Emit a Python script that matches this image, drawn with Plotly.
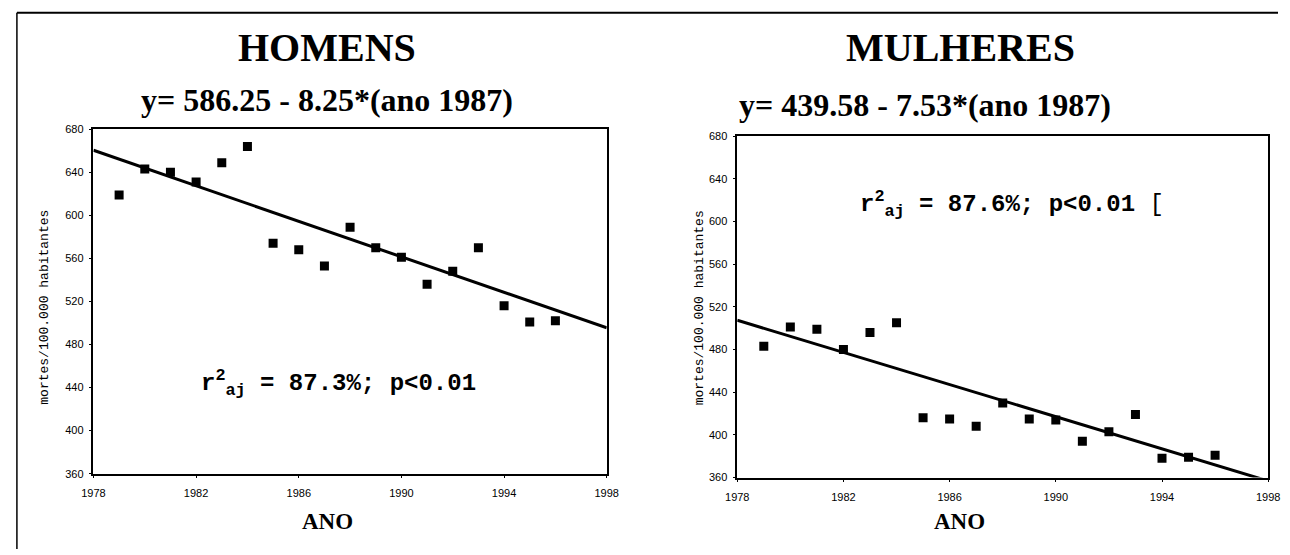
import plotly.graph_objects as go

# ---- data ----
anos = [1979, 1980, 1981, 1982, 1983, 1984, 1985, 1986, 1987,
        1988, 1989, 1990, 1991, 1992, 1993, 1994, 1995, 1996]
homens = [619, 643, 640, 631, 649, 664, 574, 568, 553,
          589, 570, 561, 536, 548, 570, 516, 501, 502]
mulheres = [483, 501, 499, 480, 496, 505, 416, 415, 408,
            430, 415, 414, 394, 403, 419, 378, 379, 381]
fit_x = [1978, 1998]
fit_homens = [660.5, 495.5]
fit_mulheres = [507.4, 356.8]
x_ticks = [1978, 1982, 1986, 1990, 1994, 1998]
y_ticks = [360, 400, 440, 480, 520, 560, 600, 640, 680]

W, H = 1290, 555
fig = go.Figure()

def px(x):
    return x / W

def py(y):
    return 1 - y / H

marker = dict(symbol="square", size=9, color="black", line=dict(width=0))
fig.add_trace(go.Scatter(x=anos, y=homens, mode="markers", marker=marker,
                         xaxis="x", yaxis="y", showlegend=False))
fig.add_trace(go.Scatter(x=fit_x, y=fit_homens, mode="lines",
                         line=dict(color="black", width=3),
                         xaxis="x", yaxis="y", showlegend=False))
fig.add_trace(go.Scatter(x=anos, y=mulheres, mode="markers", marker=marker,
                         xaxis="x2", yaxis="y2", showlegend=False))
fig.add_trace(go.Scatter(x=fit_x, y=fit_mulheres, mode="lines",
                         line=dict(color="black", width=3),
                         xaxis="x2", yaxis="y2", showlegend=False))

tickfont = dict(family="Liberation Sans, Arial", size=11, color="black")
xax = dict(range=[1978, 1998], tickvals=x_ticks, showgrid=False, zeroline=False,
           showline=True, linecolor="black", linewidth=1.5, mirror=True,
           ticks="outside", ticklen=3, tickcolor="black", tickfont=tickfont,
           ticklabelstandoff=5)
yax = dict(range=[360, 680], tickvals=y_ticks, showgrid=False, zeroline=False,
           showline=True, linecolor="black", linewidth=1.5, mirror=True,
           ticks="outside", ticklen=3, tickcolor="black", tickfont=tickfont,
           ticklabelstandoff=3)

fig.update_layout(
    width=W, height=H,
    margin=dict(l=0, r=0, t=0, b=0),
    paper_bgcolor="white", plot_bgcolor="white",
    xaxis=dict(xax, domain=[px(83), px(606)], anchor="y"),
    yaxis=dict(yax, domain=[py(478), py(126)], anchor="x"),
    xaxis2=dict(xax, domain=[px(739), px(1280)], anchor="y2"),
    yaxis2=dict(yax, domain=[py(482), py(133)], anchor="x2"),
)

serif = "Liberation Serif, Times New Roman"
mono = "Liberation Mono, Courier New"
ann = []
def text(x, y, s, size, family, bold=True, angle=0, color="black"):
    ann.append(dict(x=px(x), y=py(y), xref="paper", yref="paper", text=s,
                    showarrow=False, xanchor="center", yanchor="middle",
                    textangle=angle,
                    font=dict(family=family, size=size, color=color,
                              weight="bold" if bold else "normal")))

text(321, 42, "HOMENS", 40, serif)
text(321, 96, "y= 586.25 - 8.25*(ano 1987)", 32, serif)
text(966, 42, "MULHERES", 40, serif)
text(930, 101, "y= 439.58 - 7.53*(ano 1987)", 32, serif)
text(321, 527, "ANO", 23, serif)
text(965, 527, "ANO", 23, serif)
text(33, 308, "mortes/100.000 habitantes", 13, mono, bold=False, angle=-90)
text(700, 308, "mortes/100.000 habitantes", 13, mono, bold=False, angle=-90)
text(333, 385, "r<sup>2</sup><sub>aj</sub> = 87.3%; p&lt;0.01", 24, mono)
text(1019, 202, "r<sup>2</sup><sub>aj</sub> = 87.6%; p&lt;0.01 <span style='font-weight:normal'>[</span>", 24, mono)
fig.update_layout(annotations=ann)

# outer frame (top and left edges)
fig.add_shape(type="line", xref="paper", yref="paper", x0=px(5), x1=1, y0=py(7), y1=py(7),
              line=dict(color="black", width=2))
fig.add_shape(type="line", xref="paper", yref="paper", x0=px(5), x1=px(5), y0=py(7), y1=0,
              line=dict(color="black", width=1.5))

fig.write_html("out.html")
